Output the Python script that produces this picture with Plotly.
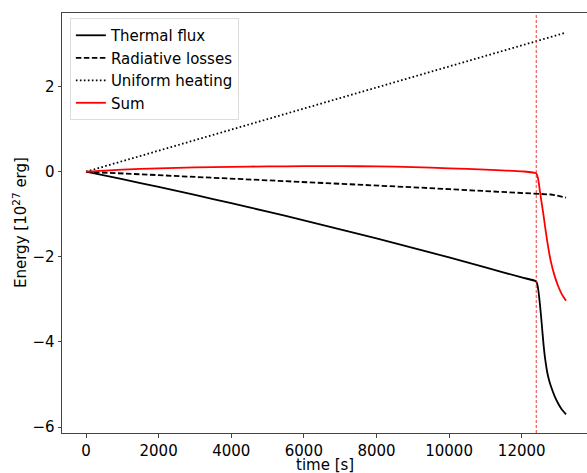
import plotly.graph_objects as go

time = [0, 1000, 2000, 3000, 4000, 5000, 6000, 7000, 8000, 9000, 10000, 11000, 12000,
        12400, 12450, 12500, 12550, 12600, 12650, 12700, 12750, 12800, 12900, 13000, 13100, 13220]
thermal = [0, -0.176, -0.358, -0.546, -0.739, -0.938, -1.142, -1.352, -1.567, -1.788, -2.015, -2.247, -2.485,
           -2.58, -2.74, -3.10, -3.56, -4.05, -4.43, -4.70, -4.89, -5.03, -5.26, -5.44, -5.58, -5.70]
radiative = [0, -0.04, -0.08, -0.118, -0.155, -0.19, -0.23, -0.275, -0.32, -0.365, -0.41, -0.45, -0.49,
             -0.51, -0.512, -0.515, -0.518, -0.52, -0.522, -0.525, -0.53, -0.535, -0.548, -0.563, -0.585, -0.61]
heating = [0, 0.247, 0.495, 0.742, 0.99, 1.237, 1.485, 1.732, 1.98, 2.227, 2.474, 2.722, 2.969,
           3.068, 3.080, 3.093, 3.105, 3.117, 3.130, 3.142, 3.154, 3.167, 3.192, 3.217, 3.242, 3.27]
total = [0, 0.05, 0.08, 0.10, 0.115, 0.125, 0.13, 0.13, 0.125, 0.11, 0.08, 0.05, 0.01,
         -0.04, -0.16, -0.45, -0.74, -1.02, -1.33, -1.62, -1.88, -2.10, -2.43, -2.68, -2.87, -3.03]
vline_t = 12400
xtick_vals = [0, 2000, 4000, 6000, 8000, 10000, 12000]
xtick_text = ["0", "2000", "4000", "6000", "8000", "10000", "12000"]
ytick_vals = [-6, -4, -2, 0, 2]

fig = go.Figure()
fig.add_trace(go.Scatter(x=time, y=thermal, mode="lines", name="Thermal flux",
                         line=dict(color="black", width=1.8, shape="spline", smoothing=0.6)))
fig.add_trace(go.Scatter(x=time, y=radiative, mode="lines", name="Radiative losses",
                         line=dict(color="black", width=1.8, dash="5.5px,2.5px")))
fig.add_trace(go.Scatter(x=time, y=heating, mode="lines", name="Uniform heating",
                         line=dict(color="black", width=1.8, dash="1.6px,2.4px")))
fig.add_trace(go.Scatter(x=time, y=total, mode="lines", name="Sum",
                         line=dict(color="red", width=1.8, shape="spline", smoothing=0.6)))

fig.add_shape(type="line", x0=vline_t, x1=vline_t, xref="x", y0=0, y1=1, yref="paper",
              line=dict(color="rgba(230,40,40,0.9)", width=1, dash="3px,2px"))

font = dict(family="DejaVu Sans", size=15, color="black")
fig.add_annotation(text="time [s]", xref="paper", yref="paper", x=0.5, y=-0.076,
                   xanchor="center", yanchor="middle", showarrow=False, font=font)
fig.add_annotation(text="Energy [10<sup>27</sup> erg]", xref="paper", yref="paper",
                   x=-0.08, y=0.5, xanchor="center", yanchor="middle", textangle=-90,
                   showarrow=False, font=font)

fig.update_layout(
    width=587, height=473,
    margin=dict(l=62, r=0, t=13, b=40),
    paper_bgcolor="white", plot_bgcolor="white",
    font=font,
    showlegend=True,
    legend=dict(x=0.015, y=0.988, xanchor="left", yanchor="top",
                bgcolor="rgba(255,255,255,0.8)", bordercolor="#dddddd", borderwidth=1,
                font=font, tracegroupgap=0, itemwidth=30),
    xaxis=dict(range=[-661, 13798], tickvals=xtick_vals, ticktext=xtick_text,
               showgrid=False, zeroline=False, showline=True, linecolor="#444444", linewidth=1,
               mirror=True, ticks="outside", ticklen=3.5, tickcolor="#444444", automargin=False),
    yaxis=dict(range=[-6.14, 3.73], tickvals=ytick_vals,
               showgrid=False, zeroline=False, showline=True, linecolor="#444444", linewidth=1,
               ticks="outside", ticklen=3.5, tickcolor="#444444", automargin=False),
)

fig.write_html("out.html")
